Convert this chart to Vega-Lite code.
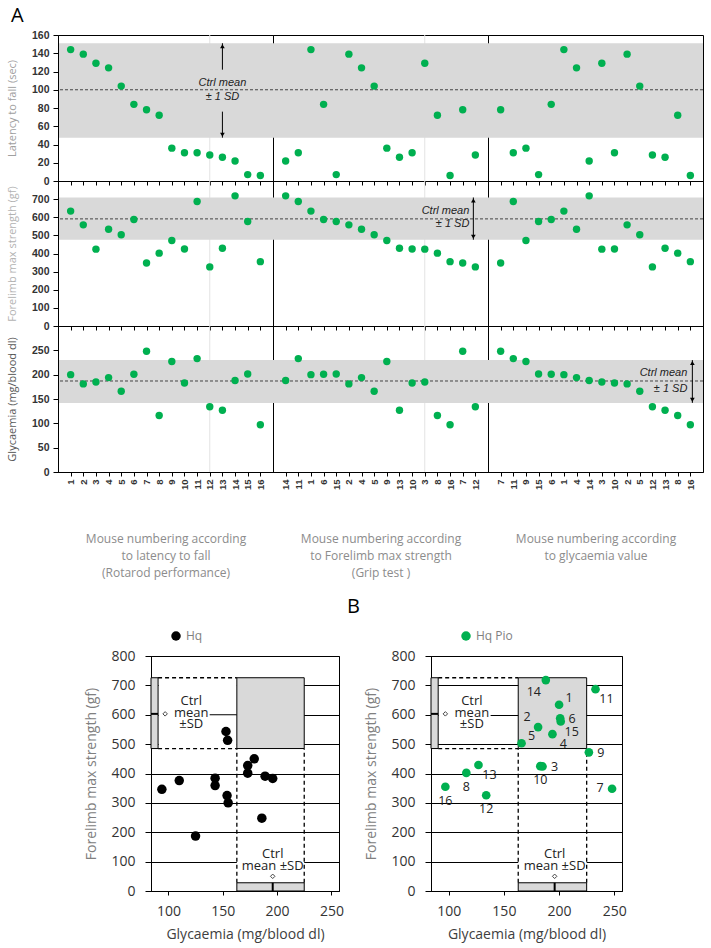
{
"$schema":"https://vega.github.io/schema/vega-lite/v6.json",
"padding":5,
"spacing":16,
"config":{"view":{"stroke":"#000","strokeWidth":1},"font":"Liberation Sans",
 "axis":{"domainColor":"#000","tickColor":"#000","labelFont":"Liberation Sans","labelFontWeight":"bold","labelFontSize":10.5,"labelColor":"#333","titleFont":"Open Sans","titleFontWeight":"normal","grid":false,"labelOverlap":false}},
"datasets":{
 "mice":[
  {"m":"1","lat":144,"str":634,"gly":200,"grp":"Hq Pio"},
  {"m":"2","lat":139,"str":558,"gly":181,"grp":"Hq Pio"},
  {"m":"3","lat":129,"str":424,"gly":185,"grp":"Hq Pio"},
  {"m":"4","lat":124,"str":534,"gly":194,"grp":"Hq Pio"},
  {"m":"5","lat":104,"str":503,"gly":166,"grp":"Hq Pio"},
  {"m":"6","lat":84,"str":588,"gly":201,"grp":"Hq Pio"},
  {"m":"7","lat":78,"str":348,"gly":248,"grp":"Hq Pio"},
  {"m":"8","lat":72,"str":402,"gly":116,"grp":"Hq Pio"},
  {"m":"9","lat":36,"str":472,"gly":227,"grp":"Hq Pio"},
  {"m":"10","lat":31,"str":425,"gly":183,"grp":"Hq Pio"},
  {"m":"11","lat":31,"str":687,"gly":233,"grp":"Hq Pio"},
  {"m":"12","lat":28.5,"str":326,"gly":134,"grp":"Hq Pio"},
  {"m":"13","lat":26,"str":429,"gly":127,"grp":"Hq Pio"},
  {"m":"14","lat":22,"str":718,"gly":188,"grp":"Hq Pio"},
  {"m":"15","lat":7,"str":577,"gly":201.5,"grp":"Hq Pio"},
  {"m":"16","lat":6,"str":355,"gly":97,"grp":"Hq Pio"}],
 "hq":[
  {"gly":94,"str":346,"grp":"Hq"},{"gly":110,"str":376,"grp":"Hq"},{"gly":125,"str":187,"grp":"Hq"},
  {"gly":143,"str":384,"grp":"Hq"},{"gly":143,"str":359,"grp":"Hq"},{"gly":153,"str":543,"grp":"Hq"},
  {"gly":154.5,"str":513,"grp":"Hq"},{"gly":154,"str":325,"grp":"Hq"},{"gly":155,"str":300,"grp":"Hq"},
  {"gly":173,"str":427,"grp":"Hq"},{"gly":173,"str":401,"grp":"Hq"},{"gly":179,"str":450,"grp":"Hq"},
  {"gly":186,"str":248,"grp":"Hq"},{"gly":189,"str":391,"grp":"Hq"},{"gly":196,"str":383,"grp":"Hq"}],
 "ctrlA":[
  {"k":"lat","lo":47.5,"mean":100,"hi":151,"am":"13"},
  {"k":"str","lo":476,"mean":591,"hi":709,"am":"12"},
  {"k":"gly","lo":142,"mean":187,"hi":230,"am":"16"}],
 "gridA":[{"col":1,"m":"12"},{"col":2,"m":"3"}],
 "arrA":[
  {"k":"lat","m":"13","y1":122,"y2":151},{"k":"lat","m":"13","y1":47.5,"y2":76},
  {"k":"str","m":"12","y1":476,"y2":709},{"k":"gly","m":"16","y1":142,"y2":230}],
 "annA":[
  {"k":"lat","m":"13","t":"Ctrl mean","v":107},{"k":"lat","m":"13","t":"± 1 SD","v":92},
  {"k":"str","m":"12","t":"Ctrl mean","v":634},{"k":"str","m":"12","t":"± 1 SD","v":561},
  {"k":"gly","m":"16","t":"Ctrl mean","v":204},{"k":"gly","m":"16","t":"± 1 SD","v":171}],
 "ctrlB":[{"g0":163,"g1":225,"gm":196,"s0":485,"s1":726,"sm":603,"xa":84,"xs":90.5,"ya":0,"ys":28}],
 "bgB":[
  {"p":"L","x0":91,"x1":163,"y0":488,"y1":723},{"p":"L","x0":163,"x1":225,"y0":65,"y1":150},
  {"p":"R","x0":91,"x1":138,"y0":550,"y1":675},{"p":"R","x0":163,"x1":225,"y0":65,"y1":150}],
 "segB":[{"p":"L","x0":138,"x1":163,"y":600}],
 "txtB":[
  {"g":121,"s":648,"t":"Ctrl"},{"g":121,"s":606,"t":"mean"},{"g":121,"s":570,"t":"±SD"},
  {"g":196,"s":126,"t":"Ctrl"},{"g":196,"s":86,"t":"mean  ±SD"}],
 "dmB":[{"g":97,"s":603},{"g":196,"s":50}]
},
"vconcat":[
 {
  "title":{"text":"A","anchor":"start","fontSize":20,"fontWeight":"normal","font":"Open Sans","offset":4,"dx":5,"color":"#000"},
  "columns":3,"spacing":0,"bounds":"flush",
  "concat":[
   {"width":215,"height":146,"layer":[
    {"data":{"name":"gridA"},"transform":[{"filter":"datum.col==1"}],"mark":{"type":"rule","color":"#e3e3e3"},"encoding":{"x":{"field":"m","type":"nominal"}}},
    {"data":{"name":"ctrlA"},"transform":[{"filter":"datum.k=='lat'"}],"mark":{"type":"rect","color":"#d9d9d9"},"encoding":{"y":{"field":"lo","type":"quantitative"},"y2":{"field":"hi"}}},
    {"data":{"name":"ctrlA"},"transform":[{"filter":"datum.k=='lat'"}],"mark":{"type":"rule","color":"#444","strokeDash":[3,2]},"encoding":{"y":{"field":"mean","type":"quantitative"}}},
    {"data":{"name":"mice"},"mark":{"type":"circle","size":55,"color":"#00b050","opacity":1},"encoding":{
      "x":{"field":"m","type":"nominal","scale":{"type":"point","domain":["1","2","3","4","5","6","7","8","9","10","11","12","13","14","15","16"],"padding":1},"axis":{"labels":false,"title":null,"tickSize":4,"zindex":1}},
      "y":{"field":"lat","type":"quantitative","scale":{"domain":[0,160],"nice":false},"axis":{"values":[0,20,40,60,80,100,120,140,160],"tickCount":20,"labelOverlap":false,"title":"Latency to fall (sec)","titleFontSize":11,"titleColor":"#a0a0a0","titlePadding":14,"tickSize":5,"labelPadding":4,"zindex":1}}}},
    {"data":{"name":"arrA"},"transform":[{"filter":"datum.k=='lat'"}],"mark":{"type":"rule","color":"#000"},"encoding":{"x":{"field":"m","type":"nominal"},"y":{"field":"y1","type":"quantitative"},"y2":{"field":"y2"}}},
    {"data":{"name":"ctrlA"},"transform":[{"filter":"datum.k=='lat'"}],"mark":{"type":"point","shape":"triangle-up","filled":true,"color":"#000","opacity":1,"size":22,"yOffset":3},"encoding":{"x":{"field":"am","type":"nominal"},"y":{"field":"hi","type":"quantitative"}}},
    {"data":{"name":"ctrlA"},"transform":[{"filter":"datum.k=='lat'"}],"mark":{"type":"point","shape":"triangle-down","filled":true,"color":"#000","opacity":1,"size":22,"yOffset":-3},"encoding":{"x":{"field":"am","type":"nominal"},"y":{"field":"lo","type":"quantitative"}}},
    {"data":{"name":"annA"},"transform":[{"filter":"datum.k=='lat'"}],"mark":{"type":"text","font":"Liberation Sans","fontStyle":"italic","fontSize":11,"color":"#222","align":"center","baseline":"middle"},"encoding":{"x":{"field":"m","type":"nominal"},"y":{"field":"v","type":"quantitative"},"text":{"field":"t"}}}
   ]},
   {"width":215,"height":146,"layer":[
    {"data":{"name":"gridA"},"transform":[{"filter":"datum.col==2"}],"mark":{"type":"rule","color":"#e3e3e3"},"encoding":{"x":{"field":"m","type":"nominal"}}},
    {"data":{"name":"ctrlA"},"transform":[{"filter":"datum.k=='lat'"}],"mark":{"type":"rect","color":"#d9d9d9"},"encoding":{"y":{"field":"lo","type":"quantitative","axis":null},"y2":{"field":"hi"}}},
    {"data":{"name":"ctrlA"},"transform":[{"filter":"datum.k=='lat'"}],"mark":{"type":"rule","color":"#444","strokeDash":[3,2]},"encoding":{"y":{"field":"mean","type":"quantitative","axis":null}}},
    {"data":{"name":"mice"},"mark":{"type":"circle","size":55,"color":"#00b050","opacity":1},"encoding":{
      "x":{"field":"m","type":"nominal","scale":{"type":"point","domain":["14","11","1","6","15","2","4","5","9","13","10","3","8","16","7","12"],"padding":1},"axis":{"labels":false,"title":null,"tickSize":4,"zindex":1}},
      "y":{"field":"lat","type":"quantitative","scale":{"domain":[0,160],"nice":false},"axis":null}}}
   ]},
   {"width":215,"height":146,"layer":[
    {"data":{"name":"ctrlA"},"transform":[{"filter":"datum.k=='lat'"}],"mark":{"type":"rect","color":"#d9d9d9"},"encoding":{"y":{"field":"lo","type":"quantitative","axis":null},"y2":{"field":"hi"}}},
    {"data":{"name":"ctrlA"},"transform":[{"filter":"datum.k=='lat'"}],"mark":{"type":"rule","color":"#444","strokeDash":[3,2]},"encoding":{"y":{"field":"mean","type":"quantitative","axis":null}}},
    {"data":{"name":"mice"},"mark":{"type":"circle","size":55,"color":"#00b050","opacity":1},"encoding":{
      "x":{"field":"m","type":"nominal","scale":{"type":"point","domain":["7","11","9","15","6","1","4","14","3","10","2","5","12","13","8","16"],"padding":1},"axis":{"labels":false,"title":null,"tickSize":4,"zindex":1}},
      "y":{"field":"lat","type":"quantitative","scale":{"domain":[0,160],"nice":false},"axis":null}}}
   ]},
   {"width":215,"height":145,"layer":[
    {"data":{"name":"gridA"},"transform":[{"filter":"datum.col==1"}],"mark":{"type":"rule","color":"#e3e3e3"},"encoding":{"x":{"field":"m","type":"nominal"}}},
    {"data":{"name":"ctrlA"},"transform":[{"filter":"datum.k=='str'"}],"mark":{"type":"rect","color":"#d9d9d9"},"encoding":{"y":{"field":"lo","type":"quantitative"},"y2":{"field":"hi"}}},
    {"data":{"name":"ctrlA"},"transform":[{"filter":"datum.k=='str'"}],"mark":{"type":"rule","color":"#444","strokeDash":[3,2]},"encoding":{"y":{"field":"mean","type":"quantitative"}}},
    {"data":{"name":"mice"},"mark":{"type":"circle","size":55,"color":"#00b050","opacity":1},"encoding":{
      "x":{"field":"m","type":"nominal","scale":{"type":"point","domain":["1","2","3","4","5","6","7","8","9","10","11","12","13","14","15","16"],"padding":1},"axis":{"labels":false,"title":null,"tickSize":4,"zindex":1}},
      "y":{"field":"str","type":"quantitative","scale":{"domain":[0,800],"nice":false},"axis":{"values":[0,100,200,300,400,500,600,700],"tickCount":20,"labelOverlap":false,"title":"Forelimb max strength (gf)","titleFontSize":11,"titleColor":"#b3b3b3","titlePadding":14,"tickSize":5,"labelPadding":4,"zindex":1}}}}
   ]},
   {"width":215,"height":145,"layer":[
    {"data":{"name":"gridA"},"transform":[{"filter":"datum.col==2"}],"mark":{"type":"rule","color":"#e3e3e3"},"encoding":{"x":{"field":"m","type":"nominal"}}},
    {"data":{"name":"ctrlA"},"transform":[{"filter":"datum.k=='str'"}],"mark":{"type":"rect","color":"#d9d9d9"},"encoding":{"y":{"field":"lo","type":"quantitative","axis":null},"y2":{"field":"hi"}}},
    {"data":{"name":"ctrlA"},"transform":[{"filter":"datum.k=='str'"}],"mark":{"type":"rule","color":"#444","strokeDash":[3,2]},"encoding":{"y":{"field":"mean","type":"quantitative","axis":null}}},
    {"data":{"name":"mice"},"mark":{"type":"circle","size":55,"color":"#00b050","opacity":1},"encoding":{
      "x":{"field":"m","type":"nominal","scale":{"type":"point","domain":["14","11","1","6","15","2","4","5","9","13","10","3","8","16","7","12"],"padding":1},"axis":{"labels":false,"title":null,"tickSize":4,"zindex":1}},
      "y":{"field":"str","type":"quantitative","scale":{"domain":[0,800],"nice":false},"axis":null}}},
    {"data":{"name":"arrA"},"transform":[{"filter":"datum.k=='str'"}],"mark":{"type":"rule","color":"#000","xOffset":-2},"encoding":{"x":{"field":"m","type":"nominal"},"y":{"field":"y1","type":"quantitative","axis":null},"y2":{"field":"y2"}}},
    {"data":{"name":"ctrlA"},"transform":[{"filter":"datum.k=='str'"}],"mark":{"type":"point","shape":"triangle-up","filled":true,"color":"#000","opacity":1,"size":22,"yOffset":3,"xOffset":-2},"encoding":{"x":{"field":"am","type":"nominal"},"y":{"field":"hi","type":"quantitative","axis":null}}},
    {"data":{"name":"ctrlA"},"transform":[{"filter":"datum.k=='str'"}],"mark":{"type":"point","shape":"triangle-down","filled":true,"color":"#000","opacity":1,"size":22,"yOffset":-3,"xOffset":-2},"encoding":{"x":{"field":"am","type":"nominal"},"y":{"field":"lo","type":"quantitative","axis":null}}},
    {"data":{"name":"annA"},"transform":[{"filter":"datum.k=='str'"}],"mark":{"type":"text","font":"Liberation Sans","fontStyle":"italic","fontSize":11,"color":"#222","align":"right","baseline":"middle","dx":-6},"encoding":{"x":{"field":"m","type":"nominal"},"y":{"field":"v","type":"quantitative","axis":null},"text":{"field":"t"}}}
   ]},
   {"width":215,"height":145,"layer":[
    {"data":{"name":"ctrlA"},"transform":[{"filter":"datum.k=='str'"}],"mark":{"type":"rect","color":"#d9d9d9"},"encoding":{"y":{"field":"lo","type":"quantitative","axis":null},"y2":{"field":"hi"}}},
    {"data":{"name":"ctrlA"},"transform":[{"filter":"datum.k=='str'"}],"mark":{"type":"rule","color":"#444","strokeDash":[3,2]},"encoding":{"y":{"field":"mean","type":"quantitative","axis":null}}},
    {"data":{"name":"mice"},"mark":{"type":"circle","size":55,"color":"#00b050","opacity":1},"encoding":{
      "x":{"field":"m","type":"nominal","scale":{"type":"point","domain":["7","11","9","15","6","1","4","14","3","10","2","5","12","13","8","16"],"padding":1},"axis":{"labels":false,"title":null,"tickSize":4,"zindex":1}},
      "y":{"field":"str","type":"quantitative","scale":{"domain":[0,800],"nice":false},"axis":null}}}
   ]},
   {"width":215,"height":146,"layer":[
    {"data":{"name":"gridA"},"transform":[{"filter":"datum.col==1"}],"mark":{"type":"rule","color":"#e3e3e3"},"encoding":{"x":{"field":"m","type":"nominal"}}},
    {"data":{"name":"ctrlA"},"transform":[{"filter":"datum.k=='gly'"}],"mark":{"type":"rect","color":"#d9d9d9"},"encoding":{"y":{"field":"lo","type":"quantitative"},"y2":{"field":"hi"}}},
    {"data":{"name":"ctrlA"},"transform":[{"filter":"datum.k=='gly'"}],"mark":{"type":"rule","color":"#444","strokeDash":[3,2]},"encoding":{"y":{"field":"mean","type":"quantitative"}}},
    {"data":{"name":"mice"},"mark":{"type":"circle","size":55,"color":"#00b050","opacity":1},"encoding":{
      "x":{"field":"m","type":"nominal","scale":{"type":"point","domain":["1","2","3","4","5","6","7","8","9","10","11","12","13","14","15","16"],"padding":1},"axis":{"labelAngle":270,"labelFontSize":9.5,"labelPadding":3,"tickSize":4,"zindex":1,"title":["Mouse numbering according","to latency to fall","(Rotarod performance)"],"titleFontSize":12,"titleColor":"#8c8c8c","titleLineHeight":17,"titlePadding":44}},
      "y":{"field":"gly","type":"quantitative","scale":{"domain":[0,300],"nice":false},"axis":{"values":[0,50,100,150,200,250],"tickCount":20,"labelOverlap":false,"title":"Glycaemia (mg/blood dl)","titleFontSize":11,"titleColor":"#595959","titlePadding":14,"tickSize":5,"labelPadding":4,"zindex":1}}}}
   ]},
   {"width":215,"height":146,"layer":[
    {"data":{"name":"gridA"},"transform":[{"filter":"datum.col==2"}],"mark":{"type":"rule","color":"#e3e3e3"},"encoding":{"x":{"field":"m","type":"nominal"}}},
    {"data":{"name":"ctrlA"},"transform":[{"filter":"datum.k=='gly'"}],"mark":{"type":"rect","color":"#d9d9d9"},"encoding":{"y":{"field":"lo","type":"quantitative","axis":null},"y2":{"field":"hi"}}},
    {"data":{"name":"ctrlA"},"transform":[{"filter":"datum.k=='gly'"}],"mark":{"type":"rule","color":"#444","strokeDash":[3,2]},"encoding":{"y":{"field":"mean","type":"quantitative","axis":null}}},
    {"data":{"name":"mice"},"mark":{"type":"circle","size":55,"color":"#00b050","opacity":1},"encoding":{
      "x":{"field":"m","type":"nominal","scale":{"type":"point","domain":["14","11","1","6","15","2","4","5","9","13","10","3","8","16","7","12"],"padding":1},"axis":{"labelAngle":270,"labelFontSize":9.5,"labelPadding":3,"tickSize":4,"zindex":1,"title":["Mouse numbering according","to Forelimb max strength","(Grip test )"],"titleFontSize":12,"titleColor":"#8c8c8c","titleLineHeight":17,"titlePadding":44}},
      "y":{"field":"gly","type":"quantitative","scale":{"domain":[0,300],"nice":false},"axis":null}}}
   ]},
   {"width":215,"height":146,"layer":[
    {"data":{"name":"ctrlA"},"transform":[{"filter":"datum.k=='gly'"}],"mark":{"type":"rect","color":"#d9d9d9"},"encoding":{"y":{"field":"lo","type":"quantitative","axis":null},"y2":{"field":"hi"}}},
    {"data":{"name":"ctrlA"},"transform":[{"filter":"datum.k=='gly'"}],"mark":{"type":"rule","color":"#444","strokeDash":[3,2]},"encoding":{"y":{"field":"mean","type":"quantitative","axis":null}}},
    {"data":{"name":"mice"},"mark":{"type":"circle","size":55,"color":"#00b050","opacity":1},"encoding":{
      "x":{"field":"m","type":"nominal","scale":{"type":"point","domain":["7","11","9","15","6","1","4","14","3","10","2","5","12","13","8","16"],"padding":1},"axis":{"labelAngle":270,"labelFontSize":9.5,"labelPadding":3,"tickSize":4,"zindex":1,"title":["Mouse numbering according","to glycaemia value"],"titleFontSize":12,"titleColor":"#8c8c8c","titleLineHeight":17,"titlePadding":44}},
      "y":{"field":"gly","type":"quantitative","scale":{"domain":[0,300],"nice":false},"axis":null}}},
    {"data":{"name":"arrA"},"transform":[{"filter":"datum.k=='gly'"}],"mark":{"type":"rule","color":"#000","xOffset":2},"encoding":{"x":{"field":"m","type":"nominal"},"y":{"field":"y1","type":"quantitative","axis":null},"y2":{"field":"y2"}}},
    {"data":{"name":"ctrlA"},"transform":[{"filter":"datum.k=='gly'"}],"mark":{"type":"point","shape":"triangle-up","filled":true,"color":"#000","opacity":1,"size":22,"yOffset":3,"xOffset":2},"encoding":{"x":{"field":"am","type":"nominal"},"y":{"field":"hi","type":"quantitative","axis":null}}},
    {"data":{"name":"ctrlA"},"transform":[{"filter":"datum.k=='gly'"}],"mark":{"type":"point","shape":"triangle-down","filled":true,"color":"#000","opacity":1,"size":22,"yOffset":-3,"xOffset":2},"encoding":{"x":{"field":"am","type":"nominal"},"y":{"field":"lo","type":"quantitative","axis":null}}},
    {"data":{"name":"annA"},"transform":[{"filter":"datum.k=='gly'"}],"mark":{"type":"text","font":"Liberation Sans","fontStyle":"italic","fontSize":11,"color":"#222","align":"right","baseline":"middle","dx":-3},"encoding":{"x":{"field":"m","type":"nominal"},"y":{"field":"v","type":"quantitative","axis":null},"text":{"field":"t"}}}
   ]}
  ]
 },
 {
  "title":{"text":"B","anchor":"middle","fontSize":20,"fontWeight":"normal","font":"Open Sans","dx":11,"offset":13,"color":"#000"},
  "spacing":20,
  "resolve":{"scale":{"color":"independent"},"legend":{"color":"independent"}},
  "hconcat":[
   {"width":6,"height":10,"data":{"values":[{}]},"mark":{"type":"text","text":""},"encoding":{},"view":{"stroke":null}},
   {"width":188,"height":235,"layer":[
    {"data":{"name":"bgB"},"transform":[{"filter":"datum.p=='L'"}],"mark":{"type":"rect","color":"#fff"},"encoding":{"x":{"field":"x0","type":"quantitative"},"x2":{"field":"x1"},"y":{"field":"y0","type":"quantitative"},"y2":{"field":"y1"}}},
    {"data":{"name":"segB"},"transform":[{"filter":"datum.p=='L'"}],"mark":{"type":"rule","color":"#000"},"encoding":{"x":{"field":"x0","type":"quantitative"},"x2":{"field":"x1"},"y":{"field":"y","type":"quantitative"}}},
    {"data":{"name":"ctrlB"},"mark":{"type":"rect","fill":"#d9d9d9","stroke":"#000","strokeWidth":1},"encoding":{"x":{"field":"g0","type":"quantitative"},"x2":{"field":"g1"},"y":{"field":"s0","type":"quantitative"},"y2":{"field":"s1"}}},
    {"data":{"name":"ctrlB"},"mark":{"type":"rect","fill":"#d9d9d9","stroke":"#000","strokeWidth":1},"encoding":{"x":{"field":"xa","type":"quantitative"},"x2":{"field":"xs"},"y":{"field":"s0","type":"quantitative"},"y2":{"field":"s1"}}},
    {"data":{"name":"ctrlB"},"mark":{"type":"rule","color":"#000","strokeWidth":2},"encoding":{"x":{"field":"xa","type":"quantitative"},"x2":{"field":"xs"},"y":{"field":"sm","type":"quantitative"}}},
    {"data":{"name":"ctrlB"},"mark":{"type":"rect","fill":"#d9d9d9","stroke":"#000","strokeWidth":1},"encoding":{"x":{"field":"g0","type":"quantitative"},"x2":{"field":"g1"},"y":{"field":"ya","type":"quantitative"},"y2":{"field":"ys"}}},
    {"data":{"name":"ctrlB"},"mark":{"type":"rule","color":"#000","strokeWidth":2},"encoding":{"x":{"field":"gm","type":"quantitative"},"y":{"field":"ya","type":"quantitative"},"y2":{"field":"ys"}}},
    {"data":{"name":"ctrlB"},"mark":{"type":"rule","color":"#000","strokeDash":[4,3],"strokeWidth":1.3},"encoding":{"x":{"field":"xs","type":"quantitative"},"x2":{"field":"g0"},"y":{"field":"s1","type":"quantitative"}}},
    {"data":{"name":"ctrlB"},"mark":{"type":"rule","color":"#000","strokeDash":[4,3],"strokeWidth":1.3},"encoding":{"x":{"field":"xs","type":"quantitative"},"x2":{"field":"g0"},"y":{"field":"s0","type":"quantitative"}}},
    {"data":{"name":"ctrlB"},"mark":{"type":"rule","color":"#000","strokeDash":[4,3],"strokeWidth":1.3},"encoding":{"x":{"field":"g0","type":"quantitative"},"y":{"field":"ys","type":"quantitative"},"y2":{"field":"s0"}}},
    {"data":{"name":"ctrlB"},"mark":{"type":"rule","color":"#000","strokeDash":[4,3],"strokeWidth":1.3},"encoding":{"x":{"field":"g1","type":"quantitative"},"y":{"field":"ys","type":"quantitative"},"y2":{"field":"s0"}}},
    {"data":{"name":"txtB"},"mark":{"type":"text","font":"Open Sans","fontSize":13,"color":"#222","align":"center","baseline":"middle"},"encoding":{"x":{"field":"g","type":"quantitative"},"y":{"field":"s","type":"quantitative"},"text":{"field":"t"}}},
    {"data":{"name":"dmB"},"mark":{"type":"point","shape":"diamond","size":20,"filled":false,"stroke":"#444","strokeWidth":1,"opacity":1},"encoding":{"x":{"field":"g","type":"quantitative"},"y":{"field":"s","type":"quantitative"}}},
    {"data":{"name":"hq"},"mark":{"type":"circle","size":90,"opacity":1},"encoding":{
      "x":{"field":"gly","type":"quantitative","scale":{"domain":[84,257],"nice":false,"zero":false},"axis":{"values":[100,150,200,250],"tickCount":20,"labelOverlap":false,"tickSize":4,"labelFont":"Open Sans","labelFontWeight":"normal","labelFontSize":14,"labelColor":"#333","labelPadding":9,"title":"Glycaemia (mg/blood dl)","titleFont":"Open Sans","titleFontSize":14,"titleFontWeight":"normal","titleColor":"#404040","titlePadding":9,"grid":false,"zindex":0}},
      "y":{"field":"str","type":"quantitative","scale":{"domain":[0,800],"nice":false},"axis":{"values":[0,100,200,300,400,500,600,700,800],"tickCount":20,"labelOverlap":false,"grid":true,"gridColor":"#000","gridWidth":1,"gridOpacity":1,"tickSize":6,"labelFont":"Open Sans","labelFontWeight":"normal","labelFontSize":14,"labelColor":"#333","labelPadding":10,"title":"Forelimb max strength (gf)","titleFont":"Open Sans","titleFontSize":14,"titleFontWeight":"normal","titleColor":"#808080","titlePadding":12,"zindex":0}},
      "color":{"field":"grp","type":"nominal","scale":{"domain":["Hq"],"range":["#000"]},"legend":{"orient":"none","legendX":19,"legendY":-26,"title":null,"labelFont":"Open Sans","labelFontSize":12,"labelFontWeight":"normal","labelColor":"#7f7f7f","symbolSize":90,"symbolType":"circle"}}}}
   ]},
   {"width":191,"height":235,"layer":[
    {"data":{"name":"bgB"},"transform":[{"filter":"datum.p=='R'"}],"mark":{"type":"rect","color":"#fff"},"encoding":{"x":{"field":"x0","type":"quantitative"},"x2":{"field":"x1"},"y":{"field":"y0","type":"quantitative"},"y2":{"field":"y1"}}},
    {"data":{"name":"ctrlB"},"mark":{"type":"rect","fill":"#d9d9d9","stroke":"#000","strokeWidth":1},"encoding":{"x":{"field":"g0","type":"quantitative"},"x2":{"field":"g1"},"y":{"field":"s0","type":"quantitative"},"y2":{"field":"s1"}}},
    {"data":{"name":"ctrlB"},"mark":{"type":"rect","fill":"#d9d9d9","stroke":"#000","strokeWidth":1},"encoding":{"x":{"field":"xa","type":"quantitative"},"x2":{"field":"xs"},"y":{"field":"s0","type":"quantitative"},"y2":{"field":"s1"}}},
    {"data":{"name":"ctrlB"},"mark":{"type":"rule","color":"#000","strokeWidth":2},"encoding":{"x":{"field":"xa","type":"quantitative"},"x2":{"field":"xs"},"y":{"field":"sm","type":"quantitative"}}},
    {"data":{"name":"ctrlB"},"mark":{"type":"rect","fill":"#d9d9d9","stroke":"#000","strokeWidth":1},"encoding":{"x":{"field":"g0","type":"quantitative"},"x2":{"field":"g1"},"y":{"field":"ya","type":"quantitative"},"y2":{"field":"ys"}}},
    {"data":{"name":"ctrlB"},"mark":{"type":"rule","color":"#000","strokeWidth":2},"encoding":{"x":{"field":"gm","type":"quantitative"},"y":{"field":"ya","type":"quantitative"},"y2":{"field":"ys"}}},
    {"data":{"name":"ctrlB"},"mark":{"type":"rule","color":"#000","strokeDash":[4,3],"strokeWidth":1.3},"encoding":{"x":{"field":"xs","type":"quantitative"},"x2":{"field":"g0"},"y":{"field":"s1","type":"quantitative"}}},
    {"data":{"name":"ctrlB"},"mark":{"type":"rule","color":"#000","strokeDash":[4,3],"strokeWidth":1.3},"encoding":{"x":{"field":"xs","type":"quantitative"},"x2":{"field":"g0"},"y":{"field":"s0","type":"quantitative"}}},
    {"data":{"name":"ctrlB"},"mark":{"type":"rule","color":"#000","strokeDash":[4,3],"strokeWidth":1.3},"encoding":{"x":{"field":"g0","type":"quantitative"},"y":{"field":"ys","type":"quantitative"},"y2":{"field":"s0"}}},
    {"data":{"name":"ctrlB"},"mark":{"type":"rule","color":"#000","strokeDash":[4,3],"strokeWidth":1.3},"encoding":{"x":{"field":"g1","type":"quantitative"},"y":{"field":"ys","type":"quantitative"},"y2":{"field":"s0"}}},
    {"data":{"name":"txtB"},"mark":{"type":"text","font":"Open Sans","fontSize":13,"color":"#222","align":"center","baseline":"middle"},"encoding":{"x":{"field":"g","type":"quantitative"},"y":{"field":"s","type":"quantitative"},"text":{"field":"t"}}},
    {"data":{"name":"dmB"},"mark":{"type":"point","shape":"diamond","size":20,"filled":false,"stroke":"#444","strokeWidth":1,"opacity":1},"encoding":{"x":{"field":"g","type":"quantitative"},"y":{"field":"s","type":"quantitative"}}},
    {"data":{"name":"mice"},"mark":{"type":"circle","size":75,"opacity":1},"encoding":{
      "x":{"field":"gly","type":"quantitative","scale":{"domain":[84,257],"nice":false,"zero":false},"axis":{"values":[100,150,200,250],"tickCount":20,"labelOverlap":false,"tickSize":4,"labelFont":"Open Sans","labelFontWeight":"normal","labelFontSize":14,"labelColor":"#333","labelPadding":9,"title":"Glycaemia (mg/blood dl)","titleFont":"Open Sans","titleFontSize":14,"titleFontWeight":"normal","titleColor":"#404040","titlePadding":9,"grid":false,"zindex":0}},
      "y":{"field":"str","type":"quantitative","scale":{"domain":[0,800],"nice":false},"axis":{"values":[0,100,200,300,400,500,600,700,800],"tickCount":20,"labelOverlap":false,"grid":true,"gridColor":"#000","gridWidth":1,"gridOpacity":1,"tickSize":6,"labelFont":"Open Sans","labelFontWeight":"normal","labelFontSize":14,"labelColor":"#333","labelPadding":10,"title":"Forelimb max strength (gf)","titleFont":"Open Sans","titleFontSize":14,"titleFontWeight":"normal","titleColor":"#808080","titlePadding":12,"zindex":0}},
      "color":{"field":"grp","type":"nominal","scale":{"domain":["Hq Pio"],"range":["#00b050"]},"legend":{"orient":"none","legendX":29,"legendY":-26,"title":null,"labelFont":"Open Sans","labelFontSize":12,"labelFontWeight":"normal","labelColor":"#7f7f7f","symbolSize":90,"symbolType":"circle"}}}},
    {"data":{"name":"mice"},"transform":[{"filter":"indexof(['10','8','16','12'], datum.m) >= 0"}],"mark":{"type":"text","font":"Open Sans","fontSize":12.5,"color":"#222","dx":0,"dy":14},"encoding":{"x":{"field":"gly","type":"quantitative"},"y":{"field":"str","type":"quantitative"},"text":{"field":"m"}}},
    {"data":{"name":"mice"},"transform":[{"filter":"indexof(['6','9','3'], datum.m) >= 0"}],"mark":{"type":"text","font":"Open Sans","fontSize":12.5,"color":"#222","dx":12,"dy":1},"encoding":{"x":{"field":"gly","type":"quantitative"},"y":{"field":"str","type":"quantitative"},"text":{"field":"m"}}},
    {"data":{"name":"mice"},"transform":[{"filter":"indexof(['15','11','13','4'], datum.m) >= 0"}],"mark":{"type":"text","font":"Open Sans","fontSize":12.5,"color":"#222","dx":11,"dy":10},"encoding":{"x":{"field":"gly","type":"quantitative"},"y":{"field":"str","type":"quantitative"},"text":{"field":"m"}}},
    {"data":{"name":"mice"},"transform":[{"filter":"indexof(['1','5'], datum.m) >= 0"}],"mark":{"type":"text","font":"Open Sans","fontSize":12.5,"color":"#222","dx":10,"dy":-7},"encoding":{"x":{"field":"gly","type":"quantitative"},"y":{"field":"str","type":"quantitative"},"text":{"field":"m"}}},
    {"data":{"name":"mice"},"transform":[{"filter":"datum.m=='2'"}],"mark":{"type":"text","font":"Open Sans","fontSize":12.5,"color":"#222","dx":-11,"dy":-10},"encoding":{"x":{"field":"gly","type":"quantitative"},"y":{"field":"str","type":"quantitative"},"text":{"field":"m"}}},
    {"data":{"name":"mice"},"transform":[{"filter":"datum.m=='14'"}],"mark":{"type":"text","font":"Open Sans","fontSize":12.5,"color":"#222","dx":-12,"dy":12},"encoding":{"x":{"field":"gly","type":"quantitative"},"y":{"field":"str","type":"quantitative"},"text":{"field":"m"}}},
    {"data":{"name":"mice"},"transform":[{"filter":"datum.m=='7'"}],"mark":{"type":"text","font":"Open Sans","fontSize":12.5,"color":"#222","dx":-12,"dy":-1},"encoding":{"x":{"field":"gly","type":"quantitative"},"y":{"field":"str","type":"quantitative"},"text":{"field":"m"}}}
   ]}
  ]
 }
]
}
